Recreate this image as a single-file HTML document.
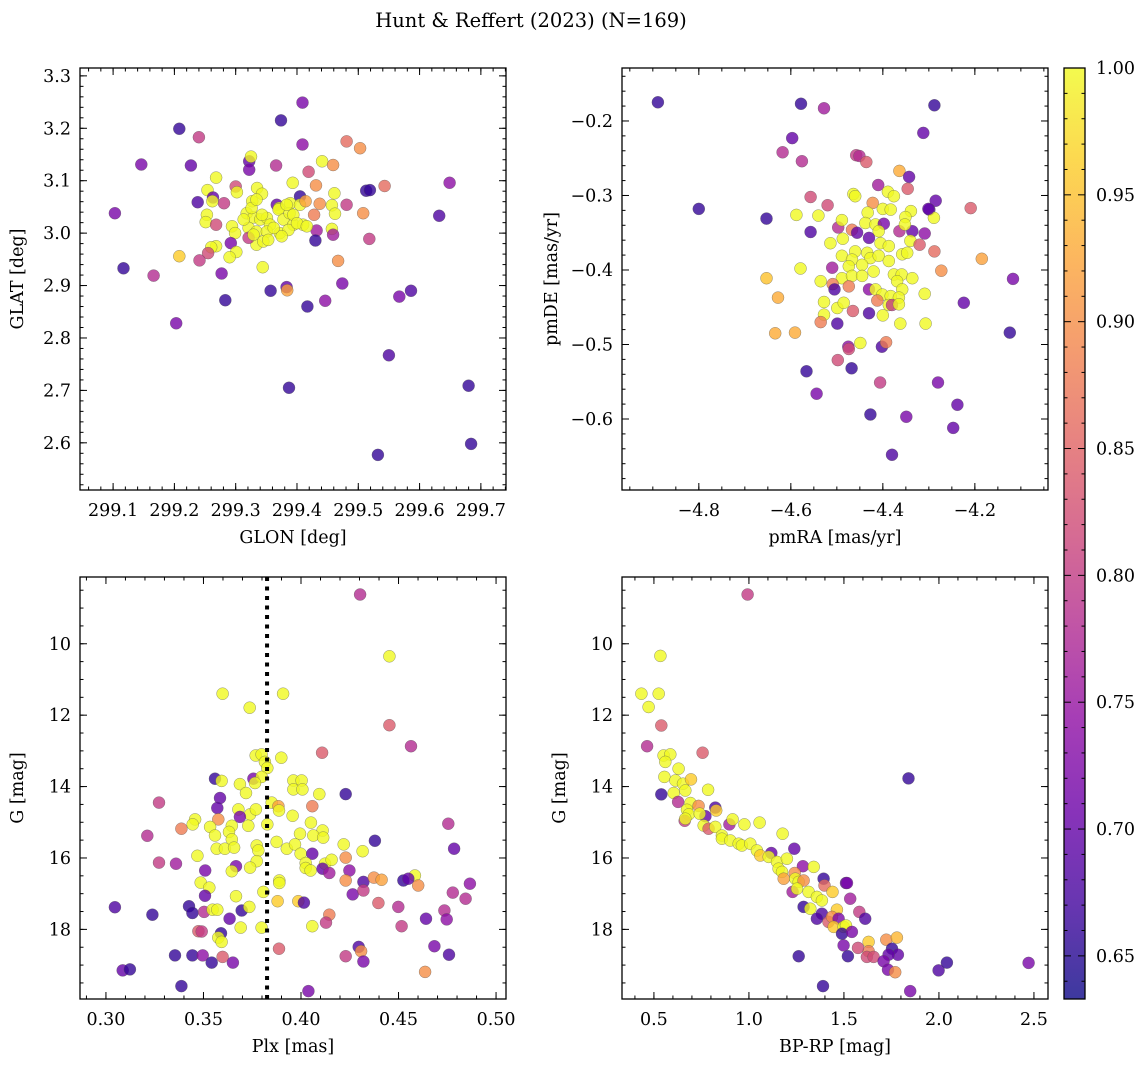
<!DOCTYPE html>
<html><head><meta charset="utf-8">
<style>
body{margin:0;background:#fff;}
svg{display:block;font-family:"DejaVu Serif","Liberation Serif",serif;}
</style></head>
<body>
<svg id="fig" width="1148" height="1067" viewBox="0 0 1148 1067" xmlns="http://www.w3.org/2000/svg">
<rect width="1148" height="1067" fill="#fff"/>
<text x="531" y="27" font-size="19.5" text-anchor="middle">Hunt &amp; Reffert (2023) (N=169)</text>
</svg>
<script>
// ---- Panel 1: GLON / GLAT ----
const p1Glon=[299.409,299.374,299.208,299.240,299.409,299.481,299.503,299.146,299.227,299.366,299.322,299.325,299.322,299.441,299.459,299.419,299.649,299.543,299.431,299.393,299.268,299.254,299.300,299.302,299.513,299.519,299.461,299.263,299.335,299.343,299.405,299.238,299.103,299.262,299.281,299.327,299.367,299.371,299.389,299.405,299.414,299.437,299.481,299.457,299.508,299.632,299.428,299.462,299.253,299.251,299.268,299.294,299.318,299.329,299.340,299.351,299.356,299.370,299.378,299.388,299.394,299.410,299.321,299.334,299.351,299.372,299.386,299.299,299.432,299.457,299.459,299.430,299.518,299.292,299.334,299.345,299.353,299.375,299.321,299.268,299.260,299.255,299.301,299.290,299.208,299.241,299.467,299.344,299.117,299.166,299.277,299.474,299.383,299.384,299.357,299.283,299.446,299.417,299.567,299.586,299.203,299.550,299.387,299.680,299.684,299.532,299.329,299.362,299.343,299.313,299.394,299.383,299.400,299.416,299.326,299.334];
const p1Glat=[3.249,3.215,3.199,3.183,3.169,3.175,3.162,3.131,3.129,3.129,3.137,3.146,3.121,3.137,3.130,3.117,3.096,3.090,3.091,3.096,3.106,3.082,3.089,3.078,3.081,3.082,3.076,3.068,3.086,3.075,3.070,3.059,3.038,3.061,3.057,3.061,3.054,3.048,3.057,3.054,3.061,3.056,3.054,3.053,3.038,3.033,3.035,3.037,3.035,3.021,3.016,3.013,3.038,3.030,3.026,3.029,3.016,3.045,3.026,3.038,3.016,3.016,3.010,3.003,3.003,3.000,3.006,3.000,3.005,3.008,2.997,2.986,2.989,2.981,2.978,2.984,2.987,2.994,2.991,2.975,2.973,2.962,2.964,2.954,2.956,2.948,2.947,2.935,2.933,2.919,2.923,2.904,2.897,2.891,2.890,2.872,2.871,2.860,2.879,2.890,2.828,2.767,2.705,2.709,2.598,2.577,2.997,3.010,3.035,3.026,3.035,3.054,3.019,3.013,3.048,3.064];
const p1Prob=[.72,.66,.66,.8,.74,.86,.9,.72,.7,.78,.7,1,.72,1,.9,.82,.74,.86,.9,1,1,1,.82,1,.66,.66,1,.7,1,1,.66,.68,.72,1,.8,1,.7,1,1,1,.92,.9,.8,1,.9,.68,.88,1,1,1,.82,1,1,1,1,1,1,1,1,1,1,1,1,1,1,1,1,1,.76,1,.76,.66,.8,.72,1,1,1,1,.8,1,1,.82,1,1,.96,.8,.9,1,.66,.78,.72,.72,.7,.92,.66,.66,.74,.66,.72,.68,.72,.68,.66,.66,.66,.66,1,1,1,1,1,1,1,1,1,1];
// ---- Panel 2: pmRA / pmDE ----
const p2Pmra=[-4.889,-4.578,-4.528,-4.288,-4.312,-4.597,-4.618,-4.576,-4.458,-4.451,-4.436,-4.364,-4.343,-4.410,-4.346,-4.800,-4.653,-4.557,-4.520,-4.285,-4.299,-4.209,-4.557,-4.588,-4.540,-4.464,-4.460,-4.389,-4.376,-4.422,-4.400,-4.383,-4.433,-4.339,-4.351,-4.289,-4.301,-4.309,-4.336,-4.364,-4.352,-4.497,-4.489,-4.467,-4.456,-4.438,-4.416,-4.398,-4.409,-4.430,-4.514,-4.487,-4.405,-4.387,-4.340,-4.320,-4.288,-4.185,-4.117,-4.273,-4.460,-4.434,-4.489,-4.467,-4.427,-4.409,-4.387,-4.358,-4.347,-4.474,-4.445,-4.420,-4.510,-4.579,-4.653,-4.535,-4.489,-4.467,-4.445,-4.376,-4.359,-4.369,-4.336,-4.509,-4.505,-4.474,-4.430,-4.416,-4.401,-4.383,-4.358,-4.365,-4.309,-4.412,-4.387,-4.380,-4.365,-4.224,-4.628,-4.528,-4.499,-4.485,-4.528,-4.535,-4.499,-4.465,-4.430,-4.400,-4.362,-4.307,-4.634,-4.591,-4.124,-4.449,-4.475,-4.474,-4.402,-4.393,-4.498,-4.566,-4.468,-4.406,-4.280,-4.544,-4.238,-4.427,-4.349,-4.247,-4.380];
const p2Pmde=[-0.175,-0.177,-0.183,-0.179,-0.216,-0.223,-0.242,-0.254,-0.246,-0.247,-0.255,-0.267,-0.275,-0.286,-0.291,-0.318,-0.331,-0.302,-0.313,-0.307,-0.319,-0.317,-0.349,-0.326,-0.327,-0.298,-0.301,-0.295,-0.301,-0.310,-0.318,-0.319,-0.323,-0.321,-0.329,-0.330,-0.318,-0.351,-0.348,-0.348,-0.339,-0.343,-0.333,-0.346,-0.350,-0.337,-0.339,-0.338,-0.348,-0.357,-0.364,-0.358,-0.364,-0.368,-0.361,-0.366,-0.375,-0.385,-0.412,-0.401,-0.375,-0.377,-0.381,-0.386,-0.384,-0.381,-0.388,-0.379,-0.377,-0.395,-0.393,-0.402,-0.397,-0.398,-0.411,-0.415,-0.411,-0.408,-0.408,-0.406,-0.406,-0.415,-0.411,-0.419,-0.426,-0.422,-0.426,-0.426,-0.433,-0.435,-0.426,-0.437,-0.432,-0.441,-0.447,-0.447,-0.446,-0.444,-0.437,-0.443,-0.451,-0.444,-0.460,-0.470,-0.472,-0.455,-0.458,-0.461,-0.472,-0.472,-0.485,-0.484,-0.484,-0.498,-0.503,-0.506,-0.503,-0.497,-0.521,-0.536,-0.532,-0.551,-0.551,-0.566,-0.581,-0.594,-0.597,-0.612,-0.648];
const p2Prob=[.66,.66,.76,.66,.7,.7,.78,.78,.8,.78,.84,.93,.7,.76,.84,.66,.66,.82,.82,.7,.68,.84,.68,1,1,1,1,1,1,.9,1,1,1,1,1,1,.7,.74,.7,.78,1,.78,1,.88,.7,1,1,.72,1,.7,1,1,1,1,1,.84,.86,.92,.72,.9,1,1,1,1,1,1,1,1,1,1,1,1,.76,1,.95,1,1,1,1,1,1,1,1,.88,.68,.88,.74,1,1,1,1,1,1,.88,1,.8,1,.7,.93,1,1,1,1,.88,.68,.84,.68,1,1,1,.93,.93,.66,1,.74,.82,.68,.88,.82,.66,.66,.8,.72,.72,.7,.66,.72,.7,.68];
// ---- Panel 3: Plx / G ----
const p3Plx=[0.4303,0.4453,0.3598,0.3908,0.3737,0.4453,0.4564,0.4108,0.3768,0.3798,0.3899,0.3815,0.3827,0.3559,0.3593,0.3756,0.3798,0.3764,0.3687,0.3961,0.4003,0.3961,0.4007,0.3718,0.4094,0.4229,0.3585,0.3571,0.3272,0.3850,0.3884,0.4058,0.3887,0.3679,0.3739,0.3769,0.3687,0.3957,0.3576,0.3457,0.3445,0.3387,0.3534,0.3645,0.3730,0.3827,0.4051,0.4111,0.4755,0.3212,0.3559,0.3631,0.3995,0.4063,0.4114,0.3645,0.3875,0.4379,0.3568,0.3610,0.3657,0.3773,0.3781,0.3927,0.3969,0.4219,0.4785,0.3469,0.3998,0.4058,0.4316,0.3272,0.3359,0.3773,0.3739,0.4024,0.4024,0.4123,0.4157,0.4229,0.4049,0.4111,0.4145,0.3509,0.3667,0.3645,0.4248,0.4229,0.4320,0.4374,0.4413,0.4584,0.4525,0.4550,0.4601,0.4866,0.3486,0.3530,0.3508,0.3889,0.3889,0.3807,0.4265,0.4320,0.4778,0.4844,0.3667,0.3880,0.3986,0.4015,0.3046,0.3238,0.3426,0.3443,0.3503,0.3547,0.3571,0.3696,0.3735,0.4499,0.4397,0.4735,0.4747,0.4641,0.4145,0.4128,0.4516,0.3634,0.3691,0.3798,0.4058,0.3474,0.3491,0.3590,0.3576,0.3593,0.3887,0.4296,0.4308,0.4684,0.4759,0.3354,0.3443,0.3496,0.3598,0.4229,0.3542,0.3651,0.4320,0.3086,0.3123,0.4636,0.3387,0.4038];
const p3G=[8.62,10.35,11.40,11.40,11.79,12.28,12.87,13.05,13.13,13.10,13.19,13.31,13.48,13.78,13.84,13.78,13.73,13.90,13.93,13.83,13.83,14.08,14.08,14.18,14.21,14.21,14.32,14.60,14.45,14.45,14.55,14.55,14.67,14.64,14.78,14.64,14.85,14.82,14.92,14.92,15.06,15.18,15.13,15.10,15.10,15.06,15.01,15.23,15.04,15.38,15.37,15.27,15.32,15.37,15.43,15.48,15.55,15.52,15.74,15.74,15.71,15.65,15.79,15.74,15.62,15.62,15.74,15.94,15.88,15.88,15.81,16.13,16.16,16.09,16.27,16.14,16.28,16.16,16.05,15.99,16.35,16.30,16.42,16.35,16.23,16.37,16.35,16.63,16.67,16.55,16.61,16.49,16.63,16.58,16.77,16.72,16.69,16.83,17.06,16.63,16.70,16.95,17.02,16.91,16.97,17.14,17.07,17.21,17.21,17.25,17.38,17.59,17.35,17.54,17.51,17.45,17.45,17.47,17.37,17.37,17.26,17.47,17.72,17.70,17.59,17.81,17.91,17.70,17.95,17.95,17.91,18.05,18.06,18.11,18.23,18.35,18.54,18.49,18.61,18.47,18.71,18.73,18.73,18.73,18.77,18.75,18.93,18.93,18.90,19.15,19.12,19.19,19.59,19.73];
const p3Prob=[.78,1,1,1,1,.84,.78,.84,1,1,1,1,1,.66,1,.72,1,1,1,1,1,1,1,1,1,.66,.7,.7,.8,1,.92,.88,1,1,1,1,.72,1,.9,1,1,.88,1,1,1,1,1,1,.78,.78,1,1,1,1,1,1,1,.66,1,1,1,1,1,1,1,1,.7,1,1,.7,1,.8,.76,1,1,1,1,1,1,.9,1,.7,.76,.72,.72,1,.74,.9,.68,.9,.92,1,.66,.7,.9,.74,1,1,.7,1,1,1,.72,.8,.78,.78,1,.96,.96,.68,.68,.66,.66,.66,.78,1,1,.66,1,.78,.84,.78,.74,.7,.88,.8,.8,.7,1,1,1,.84,.8,.66,1,1,.84,.68,.9,.72,.68,.66,.66,.74,.84,.8,.66,.72,.72,.7,.66,.9,.66,.72];
// ---- Panel 4: BP-RP / G ----
const p4Bprp=[0.993,0.534,0.434,0.525,0.472,0.539,0.464,0.756,0.551,0.586,0.560,0.630,0.555,0.613,0.653,0.695,0.785,0.539,0.604,0.665,0.627,0.692,0.735,0.823,0.828,0.674,0.683,0.771,0.741,0.662,0.665,0.762,0.788,0.823,0.897,0.914,0.976,1.056,1.177,0.858,0.858,0.902,0.946,0.963,1.007,1.042,1.060,1.118,1.104,1.148,1.200,1.239,1.284,1.341,1.156,1.174,1.183,1.241,1.244,1.262,1.288,1.393,1.398,1.511,1.516,1.230,1.253,1.314,1.358,1.384,1.440,1.533,1.288,1.323,1.384,1.463,1.581,1.612,1.358,1.419,1.437,1.472,1.446,1.498,1.511,1.490,1.542,1.630,1.630,1.574,1.621,1.656,1.723,1.779,1.753,1.784,1.735,1.709,1.732,1.770,1.498,1.521,1.262,1.390,1.849,1.840,1.998,2.042,2.472];
const p4G=[8.62,10.34,11.40,11.40,11.77,12.29,12.87,13.05,13.13,13.10,13.31,13.50,13.73,13.83,13.92,13.80,14.09,14.22,14.18,14.11,14.43,14.46,14.54,14.59,14.67,14.65,14.78,14.83,14.76,14.96,14.90,15.09,15.18,15.13,15.06,14.92,15.06,15.01,15.32,15.37,15.46,15.51,15.60,15.65,15.60,15.79,15.93,15.86,15.97,16.11,16.02,15.74,16.23,16.25,16.30,16.39,16.58,16.42,16.58,16.67,16.63,16.58,16.77,16.70,16.70,16.95,16.86,16.95,17.09,17.19,16.95,17.14,17.37,17.42,17.56,17.45,17.51,17.70,17.70,17.79,17.65,17.70,17.93,17.93,17.89,18.12,18.07,18.35,18.61,18.52,18.77,18.77,18.29,18.23,18.54,18.71,18.71,18.89,19.13,19.20,18.45,18.75,18.75,19.59,19.73,13.77,19.15,18.93,18.94];
const p4Prob=[.8,1,1,1,1,.84,.78,.84,1,1,1,1,1,1,1,.96,1,.66,1,1,.78,1,.9,.68,.96,1,1,.7,1,.8,1,1,.84,1,.76,1,1,1,1,1,1,1,1,1,1,1,.96,.7,1,1,1,.7,.74,1,1,1,.92,.9,1,1,.9,.66,.86,.7,.72,.76,1,1,1,1,.96,.76,.66,1,.68,.96,.8,.68,.68,.84,.9,.72,.96,1,1,.66,.72,.96,.88,.82,.82,.82,.9,.94,.66,.7,.7,.72,.72,.9,.72,.66,.66,.66,.72,.66,.68,.66,.72];
// ---- Colour bar ----
const cbTicks=[0.65,0.70,0.75,0.80,0.85,0.90,0.95,1.00];
const cbMin=0.633, cbMax=1.0;

const NS='http://www.w3.org/2000/svg';
const fig=document.getElementById('fig');
function mk(tag,attrs,parent){const e=document.createElementNS(NS,tag);for(const k in attrs)e.setAttribute(k,attrs[k]);(parent||fig).appendChild(e);return e;}
const plasma=[[13,8,135],[65,4,157],[106,0,168],[143,13,164],[177,42,144],[204,71,120],[225,100,98],[242,132,75],[252,166,54],[252,206,37],[240,249,33]];
function cmap(p){let t=(p-cbMin)/(cbMax-cbMin);t=Math.max(0,Math.min(1,t));const f=t*10,i=Math.min(9,Math.floor(f)),r=f-i;const a=plasma[i],b=plasma[i+1];return 'rgb('+a.map((v,k)=>Math.round(v+(b[k]-v)*r)).join(',')+')';}
function fmt(v,d){let s=v.toFixed(d);return s.replace('-','\u2212');}

function panel(o){
  const L=o.L,T=o.T,W=426,H=422;
  const sx=v=>L+(v-o.x0)/(o.x1-o.x0)*W;
  const sy=o.inv?(v=>T+(v-o.y0)/(o.y1-o.y0)*H):(v=>T+H-(v-o.y0)/(o.y1-o.y0)*H);
  const g=mk('g',{});
  
  
  const clipId='clip'+o.name;
  const cp=mk('clipPath',{id:clipId},g);mk('rect',{x:L,y:T,width:W,height:H},cp);
  const pts=mk('g',{'clip-path':'url(#'+clipId+')'},g);
  
  
  for(let i=0;i<o.xs.length;i++){
    const c=mk('circle',{cx:sx(o.xs[i]).toFixed(1),cy:sy(o.ys[i]).toFixed(1),r:6,fill:cmap(o.ps[i]),'fill-opacity':0.8,stroke:'#555','stroke-width':0.4,'stroke-opacity':0.8},pts);
    
    
  }
  if(o.vline!==undefined){
    const vl=mk('line',{x1:sx(o.vline),x2:sx(o.vline),y1:T,y2:T+H,stroke:'#000','stroke-width':4,'stroke-dasharray':'4,5.5'},g);
    
    
  }
  const tk=mk('g',{stroke:'#000','stroke-width':1},g);
  function ticks(lo,hi,step,len,axis){
    const n0=Math.ceil(lo/step-1e-6),n1=Math.floor(hi/step+1e-6);
    for(let n=n0;n<=n1;n++){const v=n*step;
      if(axis==='x'){const x=sx(v);mk('line',{x1:x,x2:x,y1:T+H,y2:T+H-len},tk);mk('line',{x1:x,x2:x,y1:T,y2:T+len},tk);}
      else{const y=sy(v);mk('line',{x1:L,x2:L+len,y1:y,y2:y},tk);mk('line',{x1:L+W,x2:L+W-len,y1:y,y2:y},tk);}
    }
  }
  const xl=Math.min(o.x0,o.x1),xh=Math.max(o.x0,o.x1),yl=Math.min(o.y0,o.y1),yh=Math.max(o.y0,o.y1);
  ticks(xl,xh,o.xmin,3.5,'x');ticks(xl,xh,o.xmaj,7,'x');
  ticks(yl,yh,o.ymin,3.5,'y');ticks(yl,yh,o.ymaj,7,'y');
  mk('rect',{x:L,y:T,width:W,height:H,fill:'none',stroke:'#000','stroke-width':1.3},g);
  for(const v of o.xlabels){const t=mk('text',{x:sx(v),y:T+H+26,'font-size':17.5,'text-anchor':'middle'},g);t.textContent=fmt(v,o.xd);
    }
  for(const v of o.ylabels){const t=mk('text',{x:L-9,y:sy(v)+6,'font-size':17.5,'text-anchor':'end'},g);t.textContent=fmt(v,o.yd);
    }
  const xt=mk('text',{x:L+W/2,y:T+H+53,'font-size':17.5,'text-anchor':'middle'},g);xt.textContent=o.xtitle;
  
  const yx=o.ytx,yy=T+H/2;
  const yt=mk('text',{x:yx,y:yy,'font-size':17.5,'text-anchor':'middle',transform:'rotate(-90 '+yx+' '+yy+')'},g);yt.textContent=o.ytitle;
  
}

panel({name:'glon-glat-panel',L:80,T:68,x0:299.046,x1:299.741,y0:2.510,y1:3.315,xs:p1Glon,ys:p1Glat,ps:p1Prob,
  xmaj:0.1,xmin:0.02,ymaj:0.1,ymin:0.02,xlabels:[299.1,299.2,299.3,299.4,299.5,299.6,299.7],xd:1,ylabels:[2.6,2.7,2.8,2.9,3.0,3.1,3.2,3.3],yd:1,
  xtitle:'GLON [deg]',ytitle:'GLAT [deg]',ytx:23});
panel({name:'pmra-pmde-panel',L:622,T:68,x0:-4.967,x1:-4.041,y0:-0.6953,y1:-0.1289,xs:p2Pmra,ys:p2Pmde,ps:p2Prob,
  xmaj:0.2,xmin:0.05,ymaj:0.1,ymin:0.02,xlabels:[-4.8,-4.6,-4.4,-4.2],xd:1,ylabels:[-0.6,-0.5,-0.4,-0.3,-0.2],yd:1,
  xtitle:'pmRA [mas/yr]',ytitle:'pmDE [mas/yr]',ytx:557});
panel({name:'plx-g-panel',L:80,T:577,x0:0.2867,x1:0.5051,y0:8.13,y1:19.95,inv:true,xs:p3Plx,ys:p3G,ps:p3Prob,vline:0.3826,
  xmaj:0.05,xmin:0.01,ymaj:2,ymin:0.5,xlabels:[0.30,0.35,0.40,0.45,0.50],xd:2,ylabels:[10,12,14,16,18],yd:0,
  xtitle:'Plx [mas]',ytitle:'G [mag]',ytx:23});
panel({name:'cmd-panel',L:622,T:577,x0:0.332,x1:2.574,y0:8.13,y1:19.95,inv:true,xs:p4Bprp,ys:p4G,ps:p4Prob,
  xmaj:0.5,xmin:0.1,ymaj:2,ymin:0.5,xlabels:[0.5,1.0,1.5,2.0,2.5],xd:1,ylabels:[10,12,14,16,18],yd:0,
  xtitle:'BP-RP [mag]',ytitle:'G [mag]',ytx:565});

(function(){
  const L=1064,T=68,W=21,H=931;
  const cy=v=>T+H-(v-cbMin)/(cbMax-cbMin)*H;
  const g=mk('g',{});
  
  
  const defs=mk('defs',{},g);
  const lg=mk('linearGradient',{id:'plasmaGrad',x1:0,y1:1,x2:0,y2:0},defs);
  plasma.forEach((c,i)=>mk('stop',{offset:i/10,'stop-color':'rgb('+c.join(',')+')'},lg));
  mk('rect',{x:L,y:T,width:W,height:H,fill:'url(#plasmaGrad)','fill-opacity':0.8},g);
  const tk=mk('g',{stroke:'#000','stroke-width':1},g);
  for(let n=Math.ceil(cbMin*100);n<=100;n++){const v=n/100,y=cy(v);const len=(n%5===0)?7:3.5;
    mk('line',{x1:L+W,x2:L+W-len,y1:y,y2:y},tk);mk('line',{x1:L,x2:L+len,y1:y,y2:y},tk);}
  mk('rect',{x:L,y:T,width:W,height:H,fill:'none',stroke:'#000','stroke-width':1.3},g);
  for(const v of cbTicks){const t=mk('text',{x:L+W+11,y:cy(v)+6,'font-size':17.5},g);t.textContent=v.toFixed(2);
    }
})();
</script>
</body></html>
